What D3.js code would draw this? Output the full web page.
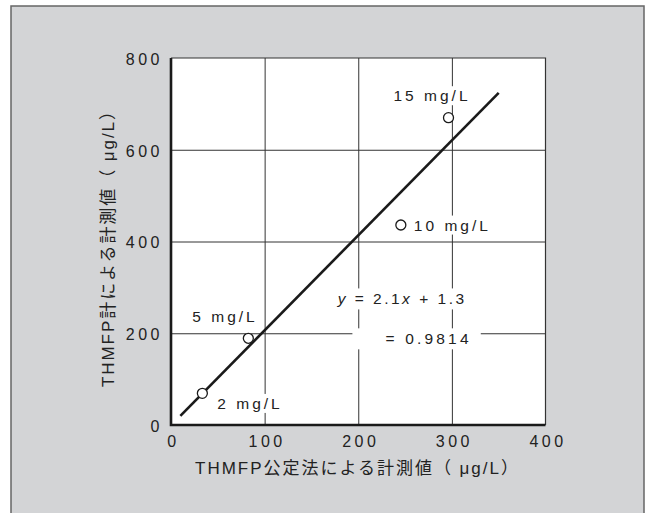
<!DOCTYPE html>
<html>
<head>
<meta charset="utf-8">
<script src="https://cdn.jsdelivr.net/npm/d3@7"></script>
<style>
  body { margin: 0; background: #fff; }
  text { font-family: "Liberation Sans", Arial, "Noto Sans CJK JP", sans-serif; fill: #222; }
</style>
</head>
<body>
<div id="chart"></div>
<script>
// data
const labels = ["2 mg/L", "5 mg/L", "10 mg/L", "15 mg/L"];
const xVals = [33.5, 82.6, 245.5, 296.4];
const yVals = [69, 189, 436, 670];
const fitX = [10, 350];
const fitY = [20, 724];
const xTicks = [0, 100, 200, 300, 400];
const yTicks = [0, 200, 400, 600, 800];
const xTitle = "THMFP公定法による計測値（ μg/L）";
const yTitle = "THMFP計による計測値（ μg/L）";

const W = 651, H = 513;
const plotL = 171, plotR = 545.5, plotT = 58, plotB = 425;

const svg = d3.select("#chart").append("svg")
    .attr("width", W)
    .attr("height", H);

// grey panel
svg.append("rect")
    .attr("x", 11).attr("y", 6)
    .attr("width", 633).attr("height", H)
    .attr("fill", "#d3d4d6")
    .attr("stroke", "#666")
    .attr("stroke-width", 1.5);

const x = d3.scaleLinear().domain([0, 400]).range([plotL, plotR]);
const y = d3.scaleLinear().domain([0, 800]).range([plotB, plotT]);

svg.append("rect")
    .attr("x", plotL).attr("y", plotT)
    .attr("width", plotR - plotL).attr("height", plotB - plotT)
    .attr("fill", "#fff");

// grid lines
svg.append("g")
    .attr("transform", `translate(0,${plotB})`)
    .call(d3.axisBottom(x).tickValues([100, 200, 300]).tickSize(-(plotB - plotT)).tickFormat(""))
    .call(g => g.select(".domain").remove())
    .call(g => g.selectAll("line").attr("stroke", "#333").attr("stroke-width", 1));

svg.append("g")
    .attr("transform", `translate(${plotL},0)`)
    .call(d3.axisLeft(y).tickValues([200, 400, 600]).tickSize(-(plotR - plotL)).tickFormat(""))
    .call(g => g.select(".domain").remove())
    .call(g => g.selectAll("line").attr("stroke", "#333").attr("stroke-width", 1));

// frame: thin top / right, heavy left / bottom
svg.append("path")
    .attr("d", `M${plotL},${plotT}H${plotR}V${plotB}`)
    .attr("fill", "none").attr("stroke", "#333").attr("stroke-width", 1.2);
svg.append("path")
    .attr("d", `M${plotL},${plotT}V${plotB}H${plotR}`)
    .attr("fill", "none").attr("stroke", "#1a1a1a").attr("stroke-width", 2.6);

// tick labels
svg.append("g")
    .attr("transform", `translate(0,${plotB})`)
    .call(d3.axisBottom(x).tickValues(xTicks).tickSize(0).tickPadding(11))
    .call(g => g.select(".domain").remove())
    .call(g => g.selectAll("text")
        .style("font-family", null)
        .attr("font-size", 16)
        .attr("fill", "#222")
        .attr("dx", 2)
        .style("letter-spacing", "3.5px"));

svg.append("g")
    .attr("transform", `translate(${plotL},0)`)
    .call(d3.axisLeft(y).tickValues(yTicks).tickSize(0).tickPadding(8))
    .call(g => g.select(".domain").remove())
    .call(g => g.selectAll("text")
        .style("font-family", null)
        .attr("font-size", 16)
        .attr("fill", "#222")
        .attr("dy", "0.4em")
        .style("letter-spacing", "3.5px"));

// axis titles
svg.append("text")
    .attr("x", 195).attr("y", 474)
    .attr("font-size", 17)
    .attr("textLength", 323)
    .attr("lengthAdjust", "spacing")
    .text(xTitle);

svg.append("text")
    .attr("transform", "translate(114,387) rotate(-90)")
    .attr("font-size", 17)
    .attr("textLength", 284)
    .attr("lengthAdjust", "spacing")
    .text(yTitle);

// labels with white backing to break the grid
function haloText(g, tx, ty, anchor) {
    const t = g.append("text")
        .attr("x", tx).attr("y", ty)
        .attr("text-anchor", anchor || "start")
        .attr("dy", "0.36em")
        .attr("font-size", 15.5)
        .style("letter-spacing", "3px");
    return t;
}

const lab = svg.append("g");
const offs = [[15, 10], [-56, -22], [13, 0], [-55, -22]];
labels.forEach((d, i) => {
    const t = haloText(lab, x(xVals[i]) + offs[i][0], y(yVals[i]) + offs[i][1]).text(d);
    const b = t.node().getBBox();
    lab.insert("rect", "text")
        .attr("x", b.x - 3).attr("y", b.y - 1)
        .attr("width", b.width + 2).attr("height", b.height + 2)
        .attr("fill", "#fff");
});

// equation
const eq1 = lab.append("text")
    .attr("x", x(178)).attr("y", y(275))
    .attr("dy", "0.36em")
    .attr("font-size", 15.5)
    .style("letter-spacing", "2.5px");
eq1.append("tspan").attr("font-style", "italic").text("y");
eq1.append("tspan").text(" = 2.1");
eq1.append("tspan").attr("font-style", "italic").text("x");
eq1.append("tspan").text("   + 1.3");
let b1 = eq1.node().getBBox();
lab.insert("rect", "text")
    .attr("x", b1.x - 4).attr("y", b1.y - 2)
    .attr("width", b1.width + 6).attr("height", b1.height + 4)
    .attr("fill", "#fff");

const eq2 = lab.append("text")
    .attr("x", x(229)).attr("y", y(188))
    .attr("dy", "0.36em")
    .attr("font-size", 15.5)
    .style("letter-spacing", "3.2px")
    .text("= 0.9814");
let b2 = eq2.node().getBBox();
lab.insert("rect", "text")
    .attr("x", b2.x - 33).attr("y", b2.y - 2)
    .attr("width", b2.width + 42).attr("height", b2.height + 4)
    .attr("fill", "#fff");

// fit line
svg.append("line")
    .attr("x1", x(fitX[0])).attr("y1", y(fitY[0]))
    .attr("x2", x(fitX[1])).attr("y2", y(fitY[1]))
    .attr("stroke", "#1a1a1a")
    .attr("stroke-width", 2.6);

// points
svg.append("g")
    .selectAll("circle")
    .data(xVals)
    .enter().append("circle")
    .attr("cx", d => x(d))
    .attr("cy", (d, i) => y(yVals[i]))
    .attr("r", 5)
    .attr("fill", "#fff")
    .attr("stroke", "#1a1a1a")
    .attr("stroke-width", 1.3);
</script>
</body>
</html>
